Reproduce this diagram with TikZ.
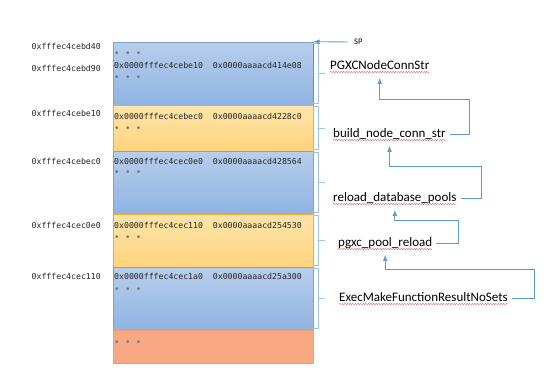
\documentclass[tikz,border=0pt]{standalone}
\usepackage{fontspec}
\setmainfont{Carlito}
\newfontfamily\monofont{DejaVu Sans Mono}
\usetikzlibrary{arrows.meta,positioning,calc,decorations.pathmorphing}
\definecolor{linkblue}{RGB}{91,155,213}
\definecolor{braceblue}{RGB}{157,195,230}
\definecolor{bluetop}{RGB}{184,206,236}
\definecolor{bluebot}{RGB}{143,180,226}
\definecolor{blueedge}{RGB}{128,162,208}
\definecolor{ortop}{RGB}{255,229,170}
\definecolor{orbot}{RGB}{255,211,125}
\definecolor{oredge}{RGB}{246,168,46}
\definecolor{salmon}{RGB}{248,169,132}
\definecolor{salmonedge}{RGB}{240,158,118}
\definecolor{brownedge}{RGB}{180,120,90}
\definecolor{squigred}{RGB}{228,70,70}
\tikzset{
  frame/.style={minimum width=200pt,inner sep=0pt,line width=0.7pt},
  blueblk/.style={frame,draw=blueedge,top color=bluetop,bottom color=bluebot},
  orblk/.style={frame,draw=oredge,top color=ortop,bottom color=orbot},
  restblk/.style={frame,draw=salmonedge,fill=salmon},
  addr/.style={font=\monofont\fontsize{8.2}{9}\selectfont,text=black!85,anchor=east,inner sep=0pt},
  word/.style={font=\monofont\fontsize{8.2}{9}\selectfont,text=black!85,anchor=west,inner sep=0pt},
  dots/.style={font=\monofont\fontsize{9}{10}\selectfont,text=black!55,anchor=west,inner sep=0pt},
  fn/.style={font=\fontsize{13}{15}\selectfont,anchor=west,inner xsep=4pt,inner ysep=5pt,
    text height=9.5pt,text depth=3.5pt},
  brace/.style={draw=braceblue,line width=0.8pt},
  conn/.style={draw=linkblue,line width=0.9pt,-{Latex[length=2.2mm,width=1.7mm]}},
  wavy/.style={draw=squigred,line width=0.35pt,decorate,
    decoration={snake,amplitude=0.55pt,segment length=2.6pt}}
}
\begin{document}
\begin{tikzpicture}[x=1pt,y=-1pt]
  \useasboundingbox (0,0) rectangle (554,375);
  % stack frames
  \node[blueblk,minimum height=63pt] (b1) at (213,73.5) {};
  \node[orblk,minimum height=46pt] (b2) at (213,128) {};
  \node[blueblk,minimum height=63pt] (b3) at (213,182.5) {};
  \node[orblk,minimum height=53pt] (b4) at (213,240.5) {};
  \node[blueblk,minimum height=63pt] (b5) at (213,298.5) {};
  \node[restblk,minimum height=33pt] (b6) at (213,346.5) {};
  \draw[brownedge,line width=0.7pt] (b1.north east) -- (b1.south east);
  % addresses
  \node[addr] (a1) at (101,46) {0xfffec4cebd40};
  \node[addr] (a2) at (101,68) {0xfffec4cebd90};
  \node[addr] (a3) at (101,113) {0xfffec4cebe10};
  \node[addr] (a4) at (101,161) {0xfffec4cebec0};
  \node[addr] (a5) at (101,225) {0xfffec4cec0e0};
  \node[addr] (a6) at (101,276) {0xfffec4cec110};
  % frame contents
  \node[dots] (d1) at (114,54) {• • •};
  \node[word] (w1) at (114,65) {0x0000fffec4cebe10\ \ 0x0000aaaacd414e08};
  \node[dots] (d2) at (114,78) {• • •};
  \node[word] (w2) at (114,116) {0x0000fffec4cebec0\ \ 0x0000aaaacd4228c0};
  \node[dots] (d3) at (114,129) {• • •};
  \node[word] (w3) at (114,161) {0x0000fffec4cec0e0\ \ 0x0000aaaacd428564};
  \node[dots] (d4) at (114,173) {• • •};
  \node[word] (w4) at (114,225) {0x0000fffec4cec110\ \ 0x0000aaaacd254530};
  \node[dots] (d5) at (114,238) {• • •};
  \node[word] (w5) at (114,276) {0x0000fffec4cec1a0\ \ 0x0000aaaacd25a300};
  \node[dots] (d6) at (114,290) {• • •};
  \node[dots] (d7) at (114,343) {• • •};
  % braces
  \foreach \b in {b1,b2,b3,b4,b5}{
    \draw[brace] ($(\b.north east)+(0,1.5)$) -- ++(5,0) |- ($(\b.south east)+(0,-1.5)$);
    \draw[brace] ($(\b.east)+(5,0)$) -- ++(7,0);
  }
  % stack pointer
  \node[font=\fontsize{8.5}{9}\selectfont,anchor=west,inner xsep=6pt] (sp) at (348,42) {SP};
  \draw[conn] (sp.west) -- (b1.north east);
  % functions
  \node[fn] (pgxcstr) at (326,66) {PGXCNodeConnStr};
  \node[fn] (build) at (329,134) {build\_node\_conn\_str};
  \node[fn] (reload) at (329,198) {reload\_database\_pools};
  \node[fn] (poolrl) at (334,243) {pgxc\_pool\_reload};
  \node[fn] (exec) at (335,298) {ExecMakeFunctionResultNoSets};
  \foreach \f in {pgxcstr,build,reload,poolrl,exec}
    \draw[wavy] ($(\f.base west)+(4,3)$) -- ($(\f.base east)+(-4,3)$);
  % calls
  \draw[conn] (build.east) -- ++(19,0) |- ($(pgxcstr.south)+(0,22)$) -- (pgxcstr.south);
  \draw[conn] (reload.east) -- ++(21,0) |- ($(build.south)+(0,20.5)$) -- (build.south);
  \draw[conn] (poolrl.east) -- ++(22,0) |- ($(reload.south)+(0,11)$) -- (reload.south);
  \draw[conn] (exec.east) -- ++(22,0) |- ($(poolrl.south)+(0,14.5)$) -- (poolrl.south);
\end{tikzpicture}
\end{document}
